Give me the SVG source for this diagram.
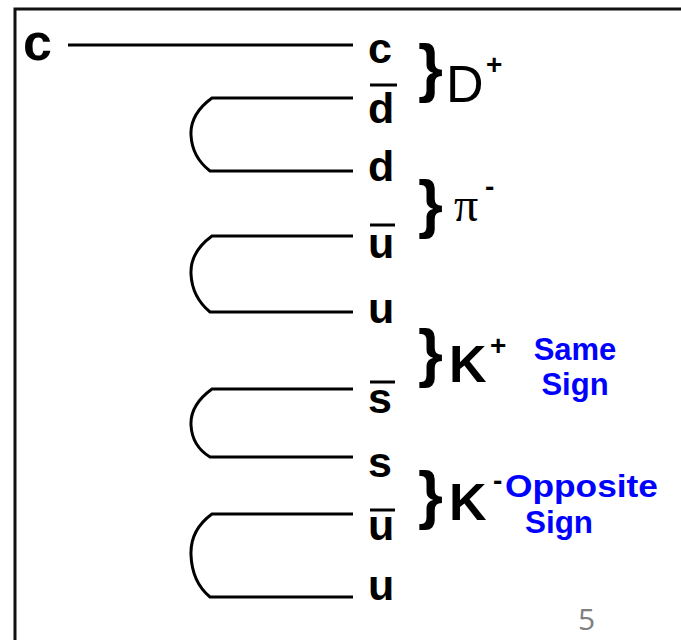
<svg xmlns="http://www.w3.org/2000/svg" width="681" height="640" viewBox="0 0 681 640">
<style>
.q{font-family:"Liberation Sans",Arial,sans-serif;font-weight:bold;font-size:43px;fill:#000}
.br{font-family:"Liberation Sans",Arial,sans-serif;font-weight:bold;font-size:64px;fill:#000}
.h{font-family:"Liberation Sans",Arial,sans-serif;font-size:52px;fill:#000}
.sup{font-family:"Liberation Sans",Arial,sans-serif;font-weight:bold;font-size:28px;fill:#000}
.note{font-family:"Liberation Sans",Arial,sans-serif;font-weight:bold;font-size:31px;fill:#0000ff}
.bar{stroke:#000;stroke-width:3}
.ln{fill:none;stroke:#000;stroke-width:3}
</style>
<rect width="681" height="640" fill="#fff"/>
<g id="frame"><path d="M15,640 V9 H681" fill="none" stroke="#111" stroke-width="3"/></g>
<g id="connectors">
<line class="ln" x1="68" y1="45" x2="353" y2="45"/>
<path class="ln" d="M353,98 H212 Q190,114 191,135 Q192,157 210,171 H353"/>
<path class="ln" d="M353,236 H212 Q190,252 191,274 Q192,297 210,312 H353"/>
<path class="ln" d="M353,389 H212 Q190,405 191,425 Q192,446 210,457 H353"/>
<path class="ln" d="M353,514 H212 Q190,530 191,555 Q192,582 210,597 H353"/>
</g>
<g id="c-in"><text class="h" style="font-weight:bold" x="23" y="60">c</text></g>
<g id="q-c"><text class="q" x="368" y="63">c</text></g>
<g id="q-dbar"><line class="bar" x1="370" y1="85" x2="397" y2="85"/><text class="q" x="368" y="123">d</text></g>
<g id="q-d"><text class="q" x="368" y="181">d</text></g>
<g id="q-ubar1"><line class="bar" x1="370" y1="225" x2="395" y2="225"/><text class="q" x="368" y="258">u</text></g>
<g id="q-u1"><text class="q" x="368" y="323">u</text></g>
<g id="q-sbar"><line class="bar" x1="370" y1="382" x2="395" y2="382"/><text class="q" x="368" y="413">s</text></g>
<g id="q-s"><text class="q" x="368" y="477">s</text></g>
<g id="q-ubar2"><line class="bar" x1="370" y1="510" x2="395" y2="510"/><text class="q" x="368" y="540">u</text></g>
<g id="q-u2"><text class="q" x="368" y="600">u</text></g>
<g id="h-D"><text class="br" x="418" y="90">}</text><text class="h" x="446" y="102">D</text><text class="sup" x="486" y="74">+</text></g>
<g id="h-pi"><text class="br" x="418" y="226">}</text><text x="454" y="221" style="font-family:'Liberation Serif','Times New Roman',serif;font-size:48px">π</text><text class="sup" x="485" y="196">-</text></g>
<g id="h-Kp"><text class="br" x="418" y="375">}</text><text class="h" style="font-weight:bold" x="449" y="382">K</text><text class="sup" x="490" y="355">+</text></g>
<g id="h-Km"><text class="br" x="418" y="517">}</text><text class="h" style="font-weight:bold" x="449" y="520">K</text><text class="sup" x="493" y="490">-</text></g>
<g id="note-same"><text class="note" x="575" y="360" text-anchor="middle">Same</text><text class="note" x="575" y="395" text-anchor="middle">Sign</text></g>
<g id="note-opp"><text class="note" x="505" y="497" textLength="153" lengthAdjust="spacingAndGlyphs">Opposite</text><text class="note" x="525" y="533" textLength="68" lengthAdjust="spacingAndGlyphs">Sign</text></g>
<g id="page"><text x="578" y="630" style="font-family:'Open Sans','Liberation Sans',sans-serif;font-size:30px;fill:#808080">5</text></g>
</svg>
